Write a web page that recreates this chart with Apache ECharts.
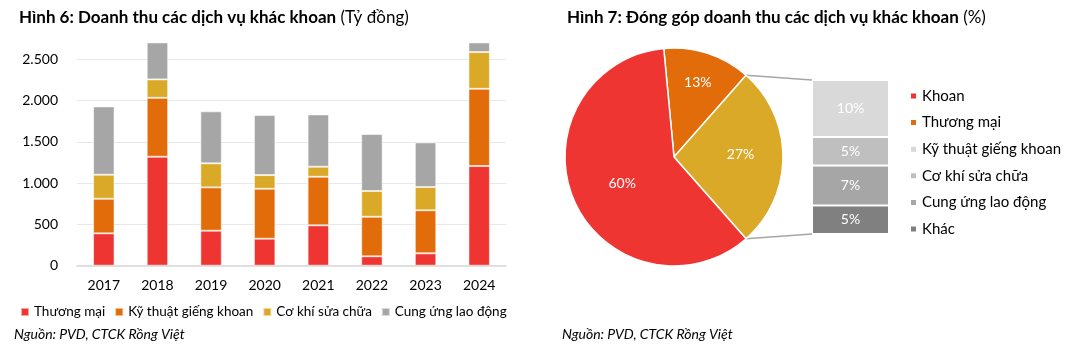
<!DOCTYPE html>
<html>
<head>
<meta charset="utf-8">
<script src="https://cdn.jsdelivr.net/npm/echarts@6/dist/echarts.min.js"></script>
<style>
html,body{margin:0;padding:0;background:#fff;}
#left{position:absolute;left:0;top:0;width:540px;height:347px;}
#right{position:absolute;left:540px;top:0;width:530px;height:347px;}
</style>
</head>
<body>
<div id="left"></div>
<div id="right"></div>
<script>
// ---- Data: Figure 6 ----
const years = ['2017','2018','2019','2020','2021','2022','2023','2024'];
const thuongMai = [392, 1320, 424, 327, 489, 114, 150, 1207];
const kyThuat = [419, 714, 525, 605, 589, 479, 521, 936];
const coKhi = [291, 223, 291, 166, 121, 312, 282, 445];
const cungUng = [828, 448, 630, 727, 634, 690, 541, 117];
const barNames = ['Thương mại','Kỹ thuật giếng khoan','Cơ khí sửa chữa','Cung ứng lao động'];
const yTicks = [0, 500, 1000, 1500, 2000, 2500];

// ---- Data: Figure 7 ----
const pieNames = ['Thương mại','Khác','Khoan'];
const pieValues = [13, 27, 60];
const subNames = ['Khác','Cung ứng lao động','Cơ khí sửa chữa','Kỹ thuật giếng khoan'];
const subValues = [5, 7, 5, 10];
const legend7 = ['Khoan','Thương mại','Kỹ thuật giếng khoan','Cơ khí sửa chữa','Cung ứng lao động','Khác'];

const FONT = 'Lato, "Noto Sans", sans-serif';
const RED = '#EE3532', ORANGE = '#E36C0A', YELLOW = '#DBA928', GREY = '#A6A6A6';
const barColors = [RED, ORANGE, YELLOW, GREY];

// ---------- Left chart ----------
const c1 = echarts.init(document.getElementById('left'), null, {renderer:'canvas'});
const fmtThousand = v => String(v).replace(/\B(?=(\d{3})+(?!\d))/g, '.');
c1.setOption({
  animation:false,
  textStyle:{fontFamily:FONT},
  title:{
    left:14, top:4,
    text:'{b|Hình 6: Doanh thu các dịch vụ khác khoan} {n|(Tỷ đồng)}',
    textStyle:{rich:{
      b:{fontFamily:FONT,fontSize:17,fontWeight:'bold',color:'#000'},
      n:{fontFamily:FONT,fontSize:17,fontWeight:'normal',color:'#000'}
    }}
  },
  legend:{
    left:15, top:300, width:530, itemWidth:8, itemHeight:8, itemGap:9, icon:'rect',
    textStyle:{fontFamily:FONT,fontSize:13.5,color:'#000'},
    data:barNames
  },
  grid:{left:77, right:34, top:38.7, bottom:81.3},
  xAxis:{
    type:'category', data:years,
    axisTick:{show:false},
    axisLine:{lineStyle:{color:'#d9d9d9',width:1.5}},
    axisLabel:{color:'#000',fontSize:14,fontFamily:FONT,margin:13}
  },
  yAxis:{
    type:'value', min:0, max:2750, interval:500,
    axisLine:{show:false}, axisTick:{show:false},
    axisLabel:{color:'#000',fontSize:14,fontFamily:FONT,margin:19,
      formatter:v => yTicks.indexOf(v) >= 0 ? fmtThousand(v) : ''},
    splitLine:{lineStyle:{color:['#e8e8e8','#e8e8e8','#e8e8e8','#e8e8e8','#e8e8e8','#e8e8e8','rgba(0,0,0,0)'],width:1.2}}
  },
  series:[thuongMai,kyThuat,coKhi,cungUng].map((d,i)=>({
    name:barNames[i], type:'bar', stack:'s', data:d, barWidth:'40%',
    itemStyle:{color:barColors[i], borderColor:'rgba(255,255,255,0.55)', borderWidth:1}
  })),
  graphic:[{type:'text', left:14, top:327,
    style:{text:'Nguồn: PVD, CTCK Rồng Việt', font:'italic 14px '+FONT, fill:'#000'}}]
});

// ---------- Right chart ----------
const c2 = echarts.init(document.getElementById('right'), null, {renderer:'canvas'});
const cx = 134, cy = 157, R = 109;
const startAngle = 360*(pieValues[0] + pieValues[1]/2)/100;
const subColors = {'Kỹ thuật giếng khoan':'#D9D9D9','Cơ khí sửa chữa':'#BFBFBF','Cung ứng lao động':'#A6A6A6','Khác':'#808080'};
const pieColors = {'Thương mại':ORANGE,'Khác':YELLOW,'Khoan':RED};
const pieLabelShift = [[6,-20],[9,-3],[1,4]];
const legendColors = {'Khoan':RED,'Thương mại':ORANGE,'Kỹ thuật giếng khoan':'#D9D9D9','Cơ khí sửa chữa':'#BFBFBF','Cung ứng lao động':'#A6A6A6','Khác':'#808080'};
const gLeft = 272, gTop = 80, gW = 77, gH = 154;
const subTotal = subValues.reduce((a,b)=>a+b,0);

// connector lines from yellow slice edges to the stacked bar
const a1 = (startAngle - 360*pieValues[0]/100) * Math.PI/180;
const a2 = (startAngle - 360*(pieValues[0]+pieValues[1])/100) * Math.PI/180;
const p1 = [cx + R*Math.cos(a1), cy - R*Math.sin(a1)];
const p2 = [cx + R*Math.cos(a2), cy - R*Math.sin(a2)];

c2.setOption({
  animation:false,
  textStyle:{fontFamily:FONT},
  title:{
    left:22, top:4,
    text:'{b|Hình 7: Đóng góp doanh thu các dịch vụ khác khoan} {n|(%)}',
    textStyle:{rich:{
      b:{fontFamily:FONT,fontSize:17,fontWeight:'bold',color:'#000'},
      n:{fontFamily:FONT,fontSize:17,fontWeight:'normal',color:'#000'}
    }}
  },
  legend:{
    orient:'vertical', left:364, top:83, itemWidth:7, itemHeight:7, itemGap:10.6, icon:'rect',
    textStyle:{fontFamily:FONT,fontSize:15,color:'#000',lineHeight:16},
    data:legend7.map(n=>({name:n, itemStyle:{color:legendColors[n]}}))
  },
  grid:{left:gLeft, top:gTop, width:gW, height:gH},
  xAxis:{type:'category', data:['x'], show:false},
  yAxis:{type:'value', min:0, max:subTotal, show:false},
  series:[
    {
      type:'pie', center:[cx,cy], radius:[0,R], startAngle:startAngle, clockwise:true,
      label:{show:true, position:'inside', formatter:'{c}%', color:'#fff', fontSize:14, fontFamily:FONT},
      labelLine:{show:false},
      labelLayout:p => ({dx:pieLabelShift[p.dataIndex][0], dy:pieLabelShift[p.dataIndex][1]}),
      itemStyle:{borderColor:'#fff', borderWidth:1.5},
      data:pieNames.map((n,i)=>({name:n, value:pieValues[i], itemStyle:{color:pieColors[n]}}))
    }
  ].concat(subNames.map((n,i)=>({
    name:n, type:'bar', stack:'sub', data:[subValues[i]], barWidth:'100%',
    itemStyle:{color:subColors[n], borderColor:'#fff', borderWidth:1},
    label:{show:true, position:'inside', formatter:'{c}%', color:'#fff', fontSize:14, fontFamily:FONT}
  }))),
  graphic:[
    {type:'line', shape:{x1:p1[0], y1:p1[1], x2:gLeft, y2:gTop}, style:{stroke:'#a6a6a6', lineWidth:1.5}},
    {type:'line', shape:{x1:p2[0], y1:p2[1], x2:gLeft, y2:gTop+gH}, style:{stroke:'#a6a6a6', lineWidth:1.5}},
    {type:'text', left:22, top:327,
      style:{text:'Nguồn: PVD, CTCK Rồng Việt', font:'italic 14px '+FONT, fill:'#000'}}
  ]
});
</script>
</body>
</html>
